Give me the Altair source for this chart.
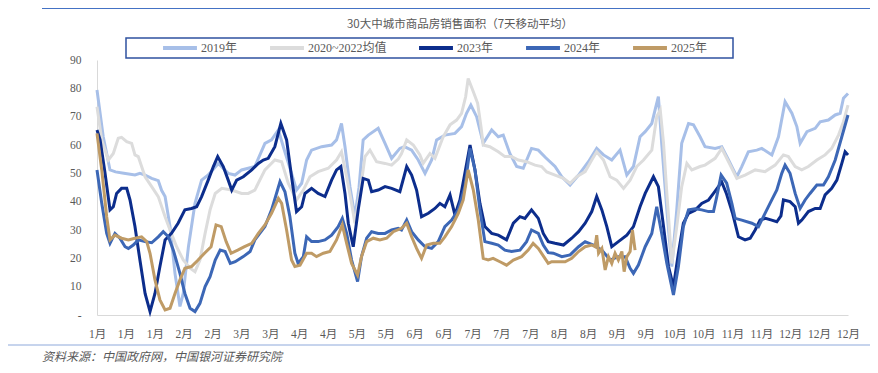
import json
import altair as alt
import pandas as pd

TITLE = "30大中城市商品房销售面积（7天移动平均）"
SOURCE = "资料来源：中国政府网，中国银河证券研究院"
X_LABELS = ['1月', '1月', '1月', '2月', '2月', '3月', '3月', '4月', '4月', '5月', '5月', '6月', '6月',
            '7月', '7月', '7月', '8月', '8月', '9月', '9月', '10月', '10月', '11月', '11月', '12月', '12月', '12月']
X_TICKS = [i * 14 for i in range(len(X_LABELS))]
Y_LABELS = ['-', '10', '20', '30', '40', '50', '60', '70', '80', '90']
Y_TICKS = [i * 10 for i in range(len(Y_LABELS))]
SERIES = ['2019年', '2020~2022均值', '2023年', '2024年', '2025年']
COLORS = ['#A7BFE8', '#DCDCDC', '#0C2D8C', '#3C67B6', '#BF9B66']

# (day of year, value)
P2019 = [(0, 79.4), (3, 63), (6.3, 51.2), (9, 50.5), (13, 50), (18.4, 49.4), (20.8, 50), (23.3, 49.4), (26.5, 48.2),
         (29.7, 47.4), (31.3, 44), (33, 41.8), (35.4, 31.2), (37.8, 14.7), (40.2, 3), (41.8, 7.6), (44.3, 24),
         (47.5, 39.4), (50.7, 47.6), (53.9, 49.4), (58.8, 53.5), (63.6, 50), (66.9, 49.4), (70.1, 51.2), (73.3, 51.8),
         (76.5, 52.4), (81.4, 60.6), (84.6, 61.8), (87.9, 65.3), (90.3, 59.4), (94.3, 50), (96.7, 44.1), (99.2, 46.5),
         (101.6, 54.7), (104, 58.2), (108.9, 59.4), (113.7, 60), (116.1, 61.8), (118.5, 67.6), (120.2, 59.4),
         (122.6, 45.3), (125, 34.7), (127, 45), (129, 61.8), (131.5, 63.5), (136.3, 65.9), (139.6, 60.6),
         (142.8, 55.3), (146.8, 58.8), (149, 59.4), (152.5, 58.2), (155.7, 54.7), (159, 50), (162.2, 54.7),
         (164.6, 61.8), (168.6, 63.5), (173.5, 64.1), (176.7, 66.5), (179.1, 71.2), (181.2, 74.1), (184, 70),
         (187.2, 60.6), (191.3, 65.3), (194.5, 62.9), (196.9, 63.5), (200.1, 57), (203.4, 52.4), (206.6, 51.8),
         (210.6, 58.8), (213.9, 58.2), (217.5, 55.5), (222, 52.4), (225.3, 48.8), (229.3, 45.9), (233.4, 49.4),
         (238.2, 54.1), (242.2, 58.8), (245.5, 56.5), (249.5, 54.7), (253.5, 58.2), (256.8, 49.4), (260, 52.4),
         (263.2, 62.9), (265.7, 64.7), (268.9, 67.6), (270.5, 72.4), (272.1, 77.1), (273.7, 60.6), (276.2, 37.1),
         (278.6, 17.1), (281, 37.1), (283.4, 60.6), (286.7, 67.6), (289.1, 67.1), (292.3, 62.9), (294.7, 59.4),
         (299.6, 58.8), (302.8, 59.4), (306.1, 54.7), (310.1, 48.8), (312.5, 52.4), (315.7, 57.6), (319.8, 58.2),
         (322.2, 58.8), (327.1, 56.5), (330.3, 62.9), (333.5, 75.3), (336.8, 71.2), (339.2, 66.5), (340.8, 60.6),
         (344.1, 64.7), (348.1, 65.9), (350.5, 68.2), (354.5, 68.8), (357.8, 70.6), (360.2, 71.2), (361.8, 76.5),
         (364, 78.2)]

P2020_22 = [(0, 73.5), (2.3, 61.8), (5.5, 54.7), (7.9, 57), (10.3, 62.4), (11.9, 62.7), (14.4, 61.2), (16.8, 60.6),
            (18.4, 56.5), (20, 55.9), (23.3, 48.8), (26.5, 45.3), (29.7, 41.8), (33, 34.7), (35.4, 30), (38.6, 24.1),
            (41.8, 19.4), (45.1, 16.5), (47.5, 15.3), (49.9, 19.4), (52.4, 28.8), (54.8, 37.1), (57.3, 42.9),
            (60.5, 44.7), (65.3, 44.1), (70.1, 42.9), (73.3, 42.9), (76.5, 44.1), (81.4, 51.2), (86.2, 54.7),
            (89.5, 54.1), (92.7, 46.5), (96.7, 40.6), (100, 44.1), (103.2, 48.8), (107.2, 50.6), (112.1, 51.8),
            (116.1, 54.7), (118.5, 57.6), (121, 48.8), (123.4, 39.4), (125, 32.4), (127.4, 42.9), (129.9, 55.9),
            (132.3, 58.2), (135.5, 54.1), (139.6, 53.5), (142.8, 52.9), (146, 55), (147.6, 57), (150.1, 61.8),
            (153.3, 60), (156.5, 56.5), (158.1, 53.5), (161.4, 57), (163.8, 55.3), (167.8, 62.9), (171.1, 67.1),
            (174.3, 68.8), (176.7, 71.2), (178.7, 77.1), (179.9, 83.5), (182.4, 78.8), (184.5, 74.7), (186.1, 66.5),
            (187.2, 60), (190.4, 59.4), (194.5, 57.6), (197.7, 55.9), (200.9, 55.9), (204.2, 54.7), (208.2, 54.1),
            (212.3, 52.9), (215.5, 52.4), (218, 50.5), (222, 49.4), (226.1, 48.2), (229.3, 46.5), (232.5, 48.8),
            (236.6, 50.6), (239.8, 54.7), (242.2, 57.6), (245.5, 54.7), (248.7, 48.8), (251.9, 47.6), (255.2, 44.7),
            (258.4, 47.6), (261.6, 52.4), (264.9, 54.7), (268.9, 58.2), (271.3, 70), (273, 72.4), (274.6, 60.6),
            (276.2, 42.9), (278.6, 18.2), (281, 31.2), (283.4, 45.3), (285.9, 53.5), (288.3, 51.2), (292.3, 52.4),
            (294.7, 52.9), (299.6, 55.3), (302.8, 58.8), (306.1, 54.1), (310.1, 48.2), (314.1, 49.4), (319, 51.2),
            (323.8, 50.6), (328.7, 52.9), (332.7, 56.5), (335.1, 55.9), (338.4, 52.4), (341.6, 51.2), (344.8, 52.4),
            (348.9, 54.7), (352.9, 56.5), (356.1, 58.8), (359.4, 63.5), (361.8, 68.2), (364, 74.1)]

P2023 = [(0, 65.3), (1.5, 61.8), (3.9, 50), (6.3, 37.1), (7.9, 38.2), (9.5, 42.9), (11.9, 44.7), (14.4, 44.7),
         (16, 40.6), (18.4, 31.2), (20.8, 19.4), (23.3, 7.6), (25.7, 1.2), (28.1, 7.6), (30.5, 17.1), (33, 26.5),
         (36.1, 28.8), (39.3, 32.4), (42.6, 37.1), (45.8, 37.6), (48.3, 38.2), (50.7, 41.8), (53.9, 47.6),
         (56.4, 52.4), (58.5, 55.9), (61.2, 52.4), (63.6, 47.6), (65.3, 44.1), (67.7, 47.6), (70.9, 48.8),
         (75, 51.2), (78.2, 53.5), (80.6, 54.7), (83, 55.3), (86.2, 59.4), (89.1, 67.6), (91.9, 61.8), (94.3, 48.8),
         (96.7, 36.5), (99.2, 38.2), (100.8, 42.9), (104, 44.7), (107.2, 42.9), (110.5, 41.8), (113.7, 47.6),
         (116.1, 51.2), (118.2, 52.4), (120.2, 42.9), (121.8, 32.4), (124.2, 24.1), (126.6, 37.1), (129, 48.2),
         (131.5, 47.6), (133.1, 43.5), (136.3, 44.1), (139.6, 45.3), (142.8, 44.7), (146.8, 43.5), (150.1, 52.4),
         (152.5, 49.4), (154.9, 44.1), (157.3, 34.7), (160.6, 35.9), (163.8, 37.6), (166.2, 39.4), (168.6, 38.2),
         (171.1, 42.4), (173.5, 35.3), (175.9, 40.6), (178.3, 50), (180.8, 60), (183.2, 51.2), (185.6, 39.4),
         (188, 31.2), (191.3, 28.8), (194.5, 28.2), (198.5, 26.5), (201.8, 32.4), (205, 34.7), (207.4, 34.1),
         (210.6, 37.1), (213.9, 34.1), (216.3, 28.8), (218.7, 25.9), (222, 25.3), (226.1, 24.7), (230.1, 27.1),
         (233.4, 29.4), (236.6, 32.4), (239.8, 36.5), (242.2, 41.8), (244.7, 37.1), (247.1, 31.2), (249.5, 24.1),
         (252.7, 25.9), (256.8, 28.2), (260, 31.2), (263.2, 38.2), (265.7, 42.9), (269.7, 48.8), (272.1, 45.3),
         (274.6, 31.2), (277, 17.1), (279.4, 10), (281.8, 21.8), (284.2, 32.4), (286.7, 35.9), (289.9, 37),
         (293.1, 39.4), (296.4, 40.6), (298.8, 42.9), (301.2, 45.3), (302.8, 47), (305, 43), (308, 36),
         (310.9, 27.6), (314.1, 26.5), (316.6, 27.1), (319, 30), (321.4, 33.5), (324, 34.1), (327, 33.5),
         (329.5, 32.9), (331.5, 35), (332.7, 40.6), (335.9, 40), (338.4, 38.2), (340, 32.4), (341.6, 33.5),
         (344.8, 36.5), (348.1, 37.6), (350.5, 37.6), (352.9, 42.4), (356.1, 44.7), (358.6, 47.6), (361, 53.5),
         (362.6, 57.6), (364, 56.5)]

P2024 = [(0, 51.2), (2.3, 39.4), (4.7, 28.8), (6.3, 25.3), (8.7, 28.8), (11.1, 27.1), (13.6, 24.1), (15.2, 23.5),
         (17.6, 24.7), (20, 26.5), (23.3, 25.9), (26.5, 25.5), (29.7, 27.6), (32.1, 29.4), (34.6, 27.6), (37, 22.9),
         (40.2, 14.7), (42.6, 7.6), (45.1, 2.4), (47.5, 1.2), (49.9, 4.1), (52.4, 10), (54.8, 13.5), (57.3, 19.4),
         (59.7, 22.9), (62.1, 22.4), (64.6, 18.2), (67, 18.8), (70.9, 20.6), (74.2, 22.4), (76.5, 26.5),
         (81.4, 31.2), (84.6, 37.1), (87, 42.9), (88.7, 47.1), (91.1, 43.5), (93.5, 34.7), (95.9, 21.8),
         (97.5, 18.2), (100, 20.6), (101.6, 27.6), (104, 25.9), (107.2, 25.9), (110.5, 26.5), (113.7, 28.2),
         (116.9, 31.2), (118.9, 34.1), (121, 28.8), (123.4, 19.4), (126.3, 11.8), (128.2, 20.6), (130.7, 27.1),
         (133.1, 29.4), (136.3, 28.8), (139.6, 28.8), (142.8, 30), (146, 30.6), (147.6, 30), (150.1, 33.5),
         (152.5, 29.4), (155.7, 26.5), (159, 24.1), (162.2, 23.5), (165.4, 25.9), (168.6, 31.2), (171.9, 33.5),
         (175.1, 37.1), (178.3, 45.3), (180.8, 58.8), (183.2, 51.2), (185.6, 37.1), (188, 25.9), (191.3, 25.3),
         (194.5, 24.7), (197.7, 22.9), (200.9, 22.4), (205, 22.9), (208.2, 25.9), (210.6, 30), (213.9, 28.8),
         (216.3, 24.7), (218.7, 22), (221.2, 21.8), (225.3, 20.6), (229.3, 21.2), (233.4, 24.1), (236.6, 25.9),
         (240.6, 24.7), (244.7, 22.9), (248.7, 19.4), (252.7, 20.6), (256, 20.6), (258.4, 16.5), (260, 14.7),
         (262.4, 17.6), (265.7, 24.1), (268.9, 28.8), (271.3, 38.2), (273.7, 28.8), (276.2, 18.2), (279.4, 7.1),
         (281.8, 17.1), (284.2, 31.2), (286.7, 37.1), (289.9, 37.5), (293.1, 37.1), (296.4, 36.5), (298.8, 36.5),
         (300.4, 41.8), (302.5, 49.4), (305.2, 46.5), (307.7, 39.4), (309.3, 34.1), (312.5, 33.5), (317.4, 32.4),
         (320.6, 31.2), (323, 34.7), (326.2, 39.4), (329.5, 44.1), (331.9, 50), (333.5, 52.9), (335.9, 50),
         (338.4, 42.9), (340.8, 37.6), (343.2, 40.6), (345.6, 42.9), (348.9, 45.9), (352.1, 45.9), (354.5, 48.8),
         (357.8, 54.7), (361, 62.9), (364, 70.6)]

P2025 = [(0, 64.1), (2.3, 51.2), (4.7, 34.7), (6.3, 26.5), (8.7, 28.2), (11.9, 27.1), (15.2, 26.5), (18.4, 27.1),
         (21.6, 27.6), (24.1, 25.9), (25.7, 21.8), (28.1, 12.4), (30.5, 5.3), (33, 1.8), (35.4, 2.4), (37.8, 7.6),
         (40.2, 12.4), (42.6, 16.5), (45.8, 17.1), (49, 19.4), (52.1, 21.8), (55.3, 24.1), (57.7, 31.8),
         (60.2, 31.2), (62.6, 25.9), (65, 21.8), (68.2, 22.9), (71.5, 24.1), (75, 25.3), (78.2, 28.8), (81.4, 31.8),
         (84.6, 35.9), (87.9, 41.2), (89.5, 39.4), (91.9, 30), (94.3, 19.4), (95.9, 17.1), (98.4, 17.6),
         (101.6, 21.8), (104, 21.8), (106.4, 20.6), (109.7, 21.8), (112.9, 22.4), (116.1, 26.5), (118.9, 31.8),
         (121, 25.3), (123.4, 18.2), (126.3, 14.1), (128.2, 20.6), (130.7, 25.9), (133.9, 27.1), (137.1, 26.5),
         (140.4, 27.1), (143.6, 29.4), (147.6, 30.6), (150.1, 32.4), (152.5, 27.6), (154.9, 23.5), (157.3, 20),
         (159.8, 24.7), (163, 25.3), (166.2, 25.3), (168.6, 27.6), (171.9, 31.2), (175.1, 35.9), (177.5, 40.6),
         (179.9, 51.2), (182.4, 44.1), (184.8, 33.5), (187.2, 20), (189.6, 19.4), (192, 20), (195.3, 18.8),
         (198.5, 17.6), (201.8, 19.4), (205.8, 20.6), (209, 22.9), (211.4, 25.3), (213.9, 23.5), (217.1, 20),
         (218.7, 18.2), (220.4, 18.8), (223.7, 18.8), (226.9, 18.8), (230.1, 20), (233.4, 22.4), (236.6, 24.1),
         (239.8, 24.7), (241.4, 24.1), (242.2, 28.2), (243.1, 21.8), (244.7, 23.5), (246.3, 15.9), (247.9, 20.6),
         (249.5, 18.2), (251.1, 21.8), (252.7, 19.4), (254.4, 22.4), (255.5, 15.3), (256.8, 20.6), (258.4, 22.4),
         (259.5, 30), (260.8, 22.9)]

rows = []
for name, pts in zip(SERIES, [P2019, P2020_22, P2023, P2024, P2025]):
    for d, v in pts:
        rows.append({"series": name, "day": d, "value": v})
df = pd.DataFrame(rows)

SERIF = "Liberation Serif, Noto Sans CJK SC"
SANS = "Noto Sans CJK SC"
GREY = "#595959"

x_expr = json.dumps(X_LABELS, ensure_ascii=False) + "[round(datum.value / 14)]"
y_expr = json.dumps(Y_LABELS, ensure_ascii=False) + "[round(datum.value / 10)]"

lines = alt.Chart(df).mark_line(strokeWidth=3, interpolate="linear").encode(
    x=alt.X("day:Q", scale=alt.Scale(domain=[0, 364], nice=False, zero=False),
            axis=alt.Axis(values=X_TICKS, labelExpr=x_expr, title=None, grid=False, ticks=False,
                          domainColor="#D9D9D9", labelColor=GREY, labelFont=SERIF, labelFontSize=11.5,
                          labelPadding=13, labelFlush=False, labelOverlap=False)),
    y=alt.Y("value:Q", scale=alt.Scale(domain=[0, 90], nice=False),
            axis=alt.Axis(values=Y_TICKS, labelExpr=y_expr, title=None, grid=False, ticks=False,
                          domainColor="#D9D9D9", labelColor=GREY, labelFont=SERIF, labelFontSize=11.5,
                          labelPadding=16)),
    color=alt.Color("series:N", scale=alt.Scale(domain=SERIES, range=COLORS), title=None,
                    legend=alt.Legend(orient="none", legendX=64, legendY=-31, direction="horizontal",
                                      columns=5, symbolType="stroke", symbolStrokeWidth=4, symbolSize=1150,
                                      labelFont=SERIF, labelFontSize=12, labelColor=GREY,
                                      columnPadding=24, labelOffset=2, padding=0)),
)

one = pd.DataFrame({"a": [0]})

legend_box = alt.Chart(one).mark_rect(fill="white", fillOpacity=0, stroke="#2F52A0", strokeWidth=1.5).encode(
    x=alt.value(29), x2=alt.value(636), y=alt.value(-22), y2=alt.value(-2))

title = alt.Chart(one).mark_text(font=SANS, fontSize=11.5, color=GREY, align="center", baseline="middle").encode(
    x=alt.value(363), y=alt.value(-35), text=alt.value(TITLE))

source = alt.Chart(one).mark_text(font=SANS, fontSize=12, color=GREY, align="left", baseline="middle",
                                   fontStyle="italic").encode(
    x=alt.value(-55), y=alt.value(297), text=alt.value(SOURCE))

top_rule = alt.Chart(one).mark_rule(color="#4472C4", strokeWidth=1).encode(
    x=alt.value(-55), x2=alt.value(773), y=alt.value(-51.5))

bottom_rule = alt.Chart(one).mark_rule(color="#8EA9DB", strokeWidth=1).encode(
    x=alt.value(-89), x2=alt.value(773), y=alt.value(285))

chart = alt.layer(legend_box, lines, title, source, top_rule, bottom_rule).properties(
    width=751, height=255,
    autosize=alt.AutoSizeParams(type="none"),
    padding={"left": 89, "top": 52, "right": 22, "bottom": 50},
).configure_view(stroke=None)

chart.save("out.html", embed_options={"renderer": "svg", "actions": False})
